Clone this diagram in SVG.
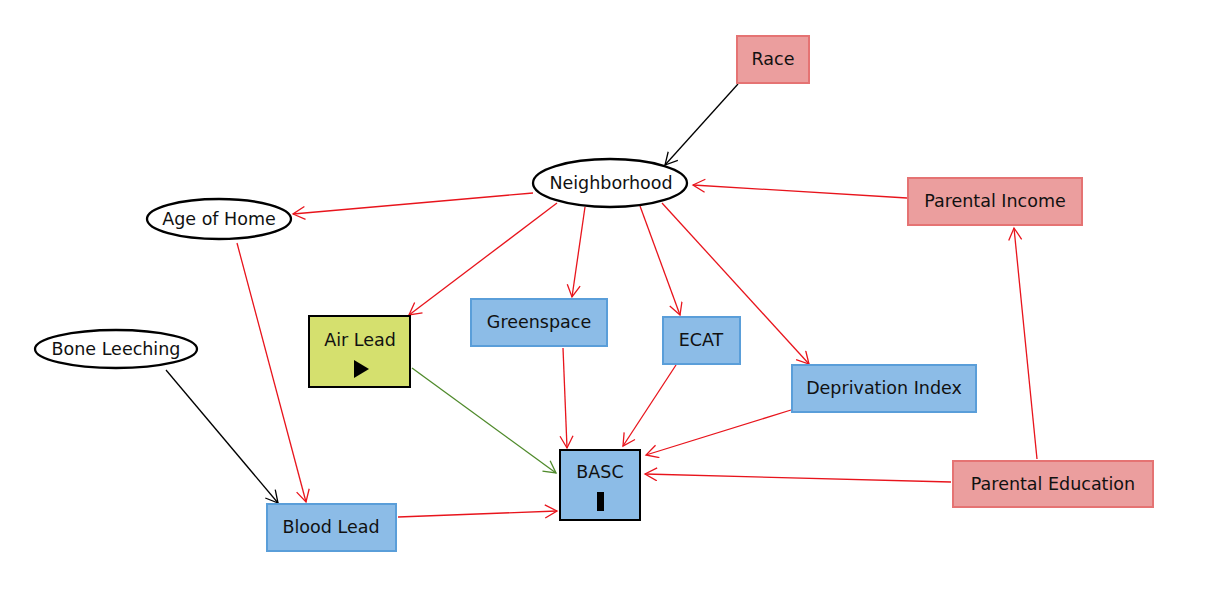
<svg xmlns="http://www.w3.org/2000/svg" width="1220" height="615" viewBox="0 0 1220 615">
<style>
text{font-family:"DejaVu Sans","Liberation Sans",sans-serif;font-size:17.5px;fill:#111;text-anchor:middle;dominant-baseline:central}
.red{fill:#eb9e9e;stroke:#e57373;stroke-width:2}
.blue{fill:#8cbce7;stroke:#5a9ed9;stroke-width:2}
.ell{fill:#fff;stroke:#000;stroke-width:2.3}
.e{fill:none;stroke-width:1.3}
.r{stroke:#e8141c}
.k{stroke:#000}
.g{stroke:#4f8a2b}
</style>
<defs>
<marker id="ar" markerUnits="userSpaceOnUse" markerWidth="16" markerHeight="16" refX="13" refY="7" orient="auto"><path d="M1,0.5 L13,7 L1,13.5" fill="none" stroke="#e8141c" stroke-width="1.3"/></marker>
<marker id="ak" markerUnits="userSpaceOnUse" markerWidth="16" markerHeight="16" refX="13" refY="7" orient="auto"><path d="M1,0.5 L13,7 L1,13.5" fill="none" stroke="#000" stroke-width="1.3"/></marker>
<marker id="ag" markerUnits="userSpaceOnUse" markerWidth="16" markerHeight="16" refX="13" refY="7" orient="auto"><path d="M1,0.5 L13,7 L1,13.5" fill="none" stroke="#4f8a2b" stroke-width="1.3"/></marker>
</defs>
<rect width="1220" height="615" fill="#fff"/>
<g id="connectors">
<line class="e k" x1="738" y1="84" x2="665" y2="165" marker-end="url(#ak)"/>
<line class="e r" x1="907" y1="198" x2="693" y2="185" marker-end="url(#ar)"/>
<line class="e r" x1="533" y1="193" x2="293" y2="214" marker-end="url(#ar)"/>
<line class="e r" x1="557" y1="203" x2="409" y2="315" marker-end="url(#ar)"/>
<line class="e r" x1="585" y1="207" x2="572" y2="297" marker-end="url(#ar)"/>
<line class="e r" x1="640" y1="206" x2="680" y2="315" marker-end="url(#ar)"/>
<line class="e r" x1="662" y1="203" x2="809" y2="364" marker-end="url(#ar)"/>
<line class="e r" x1="237" y1="243" x2="306" y2="502" marker-end="url(#ar)"/>
<line class="e k" x1="166" y1="370" x2="278" y2="503" marker-end="url(#ak)"/>
<line class="e g" x1="412" y1="368" x2="556" y2="473" marker-end="url(#ag)"/>
<line class="e r" x1="563" y1="348" x2="567" y2="448" marker-end="url(#ar)"/>
<line class="e r" x1="676" y1="365" x2="623" y2="446" marker-end="url(#ar)"/>
<line class="e r" x1="791" y1="410" x2="646" y2="455" marker-end="url(#ar)"/>
<line class="e r" x1="951" y1="482" x2="645" y2="474" marker-end="url(#ar)"/>
<line class="e r" x1="398" y1="517" x2="557" y2="511" marker-end="url(#ar)"/>
<line class="e r" x1="1037" y1="459" x2="1014" y2="228" marker-end="url(#ar)"/>
</g>
<g id="race"><rect class="red" x="737" y="36" width="72" height="47"/><text x="773" y="59">Race</text></g>
<g id="neighborhood"><ellipse class="ell" cx="610" cy="183" rx="77" ry="24"/><text x="611" y="183">Neighborhood</text></g>
<g id="parental-income"><rect class="red" x="908" y="178" width="174" height="47"/><text x="995" y="201">Parental Income</text></g>
<g id="age-of-home"><ellipse class="ell" cx="219" cy="219" rx="72" ry="20"/><text x="219" y="219">Age of Home</text></g>
<g id="bone-leeching"><ellipse class="ell" cx="116" cy="349" rx="81" ry="19"/><text x="116" y="349">Bone Leeching</text></g>
<g id="air-lead"><rect x="309" y="316" width="101" height="71" fill="#d5e06e" stroke="#000" stroke-width="2"/><text x="360" y="340">Air Lead</text><path d="M354,360 L369,369 L354,378 Z" fill="#000"/></g>
<g id="greenspace"><rect class="blue" x="471" y="299" width="136" height="47"/><text x="539" y="322">Greenspace</text></g>
<g id="ecat"><rect class="blue" x="663" y="317" width="77" height="47"/><text x="701" y="340">ECAT</text></g>
<g id="deprivation-index"><rect class="blue" x="792" y="365" width="184" height="47"/><text x="884" y="388">Deprivation Index</text></g>
<g id="basc"><rect x="560" y="450" width="80" height="70" fill="#8cbce7" stroke="#000" stroke-width="2"/><text x="600" y="472">BASC</text><rect x="597" y="492" width="7" height="19" fill="#000"/></g>
<g id="blood-lead"><rect class="blue" x="267" y="504" width="129" height="47"/><text x="331" y="527">Blood Lead</text></g>
<g id="parental-education"><rect class="red" x="953" y="461" width="200" height="46"/><text x="1053" y="484">Parental Education</text></g>
</svg>
